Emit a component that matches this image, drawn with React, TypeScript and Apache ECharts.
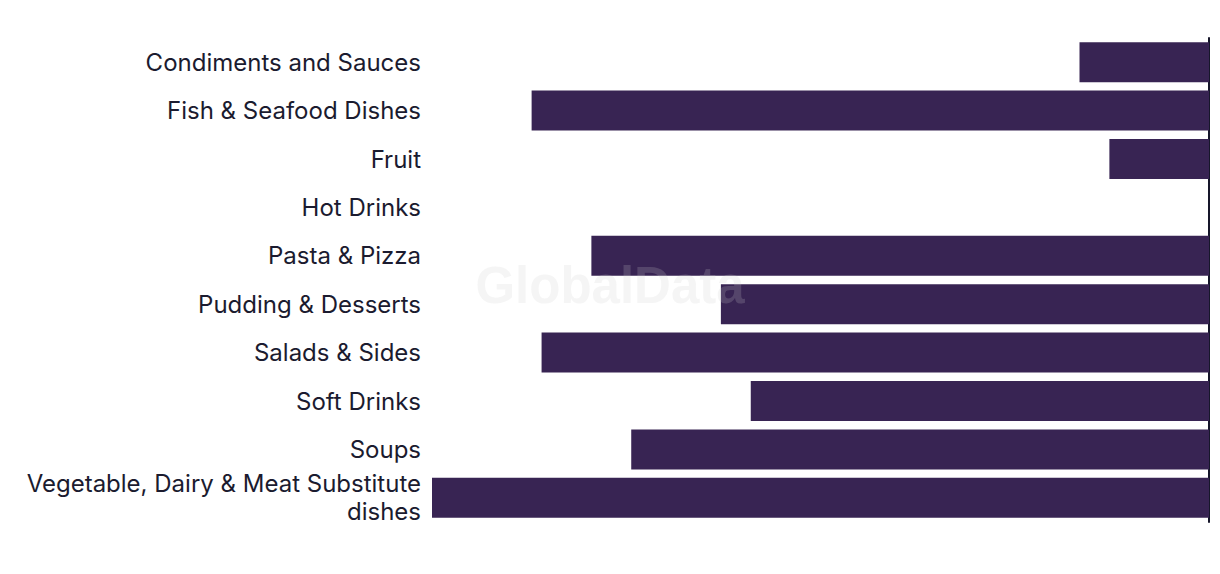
import React, { useEffect, useRef } from "react";
import * as echarts from "echarts";

const categories = [
  "Condiments and Sauces",
  "Fish & Seafood Dishes",
  "Fruit",
  "Hot Drinks",
  "Pasta & Pizza",
  "Pudding & Desserts",
  "Salads & Sides",
  "Soft Drinks",
  "Soups",
  "Vegetable, Dairy & Meat Substitute\ndishes",
];

const values = [13, 68, 10, 0, 62, 49, 67, 46, 58, 78];

const barColor = "#382453";
const textColor = "#1b1b2f";

export default function App() {
  const ref = useRef<HTMLDivElement>(null);

  useEffect(() => {
    if (!ref.current) return;
    const chart = echarts.init(ref.current, undefined, { renderer: "svg" });
    chart.setOption({
      animation: false,
      backgroundColor: "#ffffff",
      grid: { left: 432, right: 11, top: 38, height: 484, containLabel: false },
      xAxis: {
        type: "value",
        inverse: true,
        min: 0,
        max: "dataMax",
        axisLine: { show: false },
        axisTick: { show: false },
        axisLabel: { show: false },
        splitLine: { show: false },
      },
      yAxis: [
        {
          type: "category",
          data: categories,
          inverse: true,
          position: "left",
          axisLine: { show: false },
          axisTick: { show: false },
          axisLabel: {
            margin: 11,
            color: textColor,
            fontSize: 24,
            lineHeight: 28,
            fontFamily: "Inter, 'Noto Sans', sans-serif",
            align: "right",
          },
        },
        {
          type: "category",
          data: categories,
          inverse: true,
          position: "right",
          axisLine: { show: true, onZero: false, lineStyle: { color: "#16162a", width: 2 } },
          axisTick: { show: false },
          axisLabel: { show: false },
        },
      ],
      graphic: [
        {
          type: "text",
          left: "center",
          top: 260,
          z: 100,
          style: {
            text: "GlobalData",
            fill: "rgba(204,204,204,0.2)",
            fontSize: 51,
            fontWeight: "bold",
            fontFamily: "Liberation Sans, Arial, sans-serif",
          },
        },
      ],
      series: [
        {
          type: "bar",
          yAxisIndex: 0,
          data: values,
          barWidth: 40,
          itemStyle: { color: barColor },
        },
      ],
    });
    return () => chart.dispose();
  }, []);

  return (
    <div
      ref={ref}
      style={{ position: "fixed", left: 0, top: 0, width: 1220, height: 574 }}
    />
  );
}
